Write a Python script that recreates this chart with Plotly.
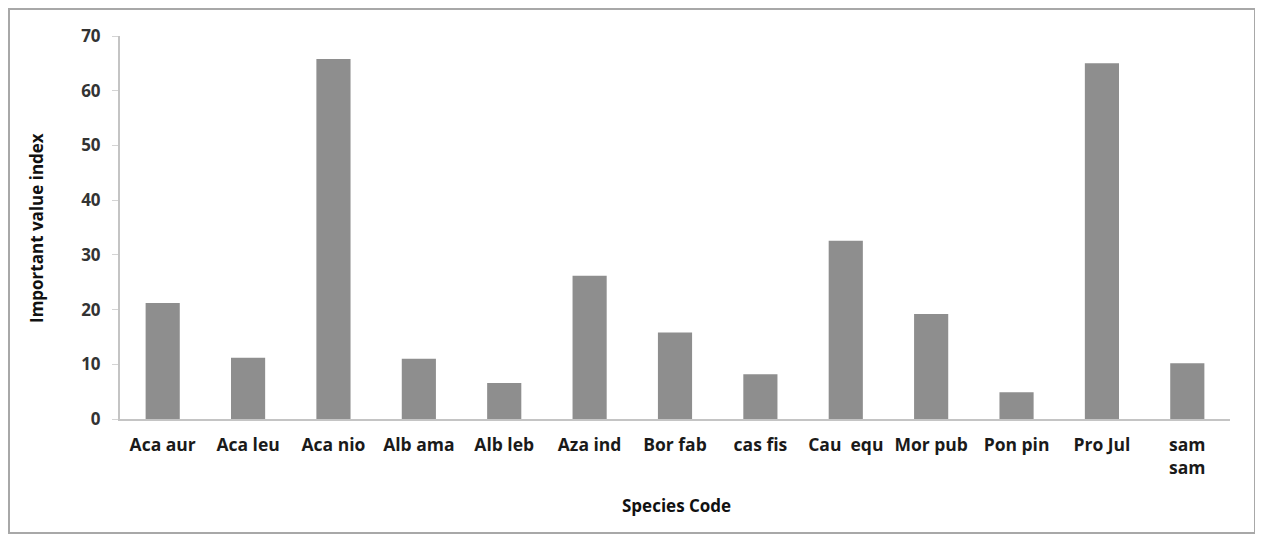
import plotly.graph_objects as go

species = ["Aca aur", "Aca leu", "Aca nio", "Alb ama", "Alb leb", "Aza ind", "Bor fab",
           "cas fis", "Cau\u00a0\u00a0equ", "Mor pub", "Pon pin", "Pro Jul", "sam<br>sam"]
ivi = [21.2, 11.2, 65.8, 11.0, 6.6, 26.2, 15.8, 8.2, 32.6, 19.2, 4.9, 65.0, 10.2]
y_ticks = [0, 10, 20, 30, 40, 50, 60, 70]

# The page body has an 8px margin, so figure coordinates = screen - 8
OFF = 8
W, H = 1263 - OFF, 535 - OFF
ML, MT = 120 - OFF, 36 - OFF
MR = W - (1230 - OFF)
MB = H - (419 - OFF)
pw, ph = W - ML - MR, H - MT - MB

def px_x(sx):
    return (sx - OFF - ML) / pw

def px_y(sy):
    return (H - MB - (sy - OFF)) / ph

font_family = "'Open Sans', Lato, sans-serif"

fig = go.Figure(go.Bar(
    x=species, y=ivi,
    marker=dict(color="#8e8e8e", line=dict(width=0)),
    width=0.4,
))

fig.update_layout(
    width=W, height=H,
    margin=dict(l=ML, r=MR, t=MT, b=MB, pad=0),
    plot_bgcolor="white", paper_bgcolor="white",
    showlegend=False,
    font=dict(family=font_family, color="#222222"),
    xaxis=dict(
        showline=True, linecolor="#c4c4c4", linewidth=2,
        ticks="", showgrid=False,
        tickfont=dict(size=17.5, family=font_family, color="#1a1a1a", weight="bold"),
        tickangle=0, ticklabelstandoff=9,
    ),
    yaxis=dict(
        range=[0, 70], tickvals=y_ticks,
        showline=True, linecolor="#c4c4c4", linewidth=2,
        ticks="outside", ticklen=6, tickcolor="#d4d4d4",
        showgrid=False, zeroline=False,
        tickfont=dict(size=17, family=font_family, color="#333333", weight="bold"),
        ticklabelstandoff=8,
    ),
    annotations=[
        dict(text="<b>Species Code</b>", xref="paper", yref="paper",
             x=px_x(676), y=px_y(505), xanchor="center", yanchor="middle",
             showarrow=False, font=dict(size=17, family=font_family, color="#111111")),
        dict(text="<b>Important value index</b>", xref="paper", yref="paper",
             x=px_x(36), y=px_y(228), xanchor="center", yanchor="middle", textangle=-90,
             showarrow=False, font=dict(size=17, family=font_family, color="#111111")),
    ],
    shapes=[dict(
        type="rect", xref="paper", yref="paper",
        x0=px_x(OFF + 1), x1=px_x(1255), y0=px_y(533), y1=px_y(OFF + 1),
        line=dict(color="#a8a8a8", width=2), fillcolor="rgba(0,0,0,0)", layer="below",
    )],
)

fig.write_html("out.html")
